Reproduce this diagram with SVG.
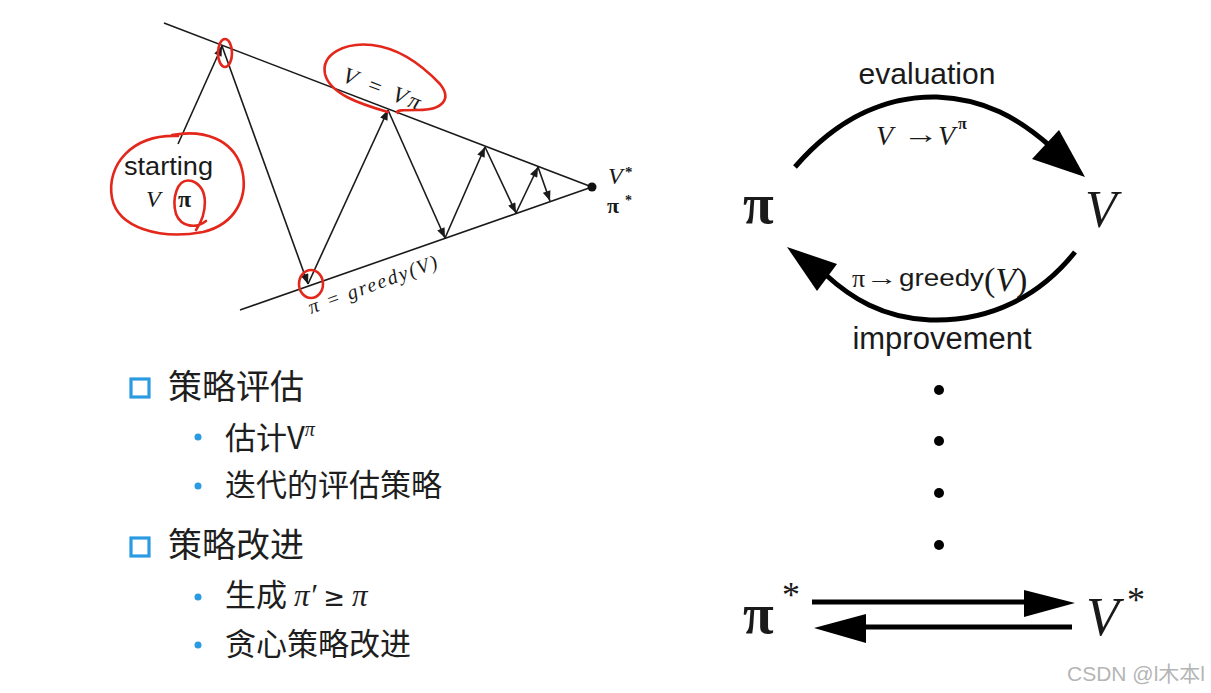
<svg xmlns="http://www.w3.org/2000/svg" width="1211" height="693" viewBox="0 0 1211 693">
<defs>
<style>
.ln{stroke:#1a1a1a;stroke-width:1.6;fill:none}
.ar{stroke:#1a1a1a;stroke-width:1.6;fill:none;marker-end:url(#sm)}
.red{stroke:#e3271b;stroke-width:2.6;fill:none;stroke-linecap:round;stroke-linejoin:round}
.serif{font-family:"Liberation Serif","DejaVu Serif",serif;fill:#1a1a1a}
.it{font-style:italic}
.sans{font-family:"Liberation Sans",Arial,sans-serif;fill:#1a1a1a}
.cjk{font-family:"Noto Sans CJK SC","Noto Sans",sans-serif;fill:#1e1e1e}
.big{stroke:#000;stroke-width:5;fill:none;stroke-linecap:butt}
.sq{fill:none;stroke:#2a9be3;stroke-width:3.2}
.dot{fill:#2a9be3}
</style>
<marker id="sm" viewBox="0 0 10 8" refX="10" refY="4" markerWidth="11" markerHeight="8" markerUnits="userSpaceOnUse" orient="auto">
<path d="M0,0 L10,4 L0,8 Z" fill="#1a1a1a"/>
</marker>
</defs>
<rect width="1211" height="693" fill="#ffffff"/>

<g id="gpi-diagram">
<line class="ln" x1="164" y1="23" x2="592" y2="187"/>
<line class="ln" x1="240" y1="310" x2="592" y2="187"/>
<circle cx="592" cy="187" r="4.5" fill="#111"/>
</g>

<g id="connectors">
<line class="ar" x1="178" y1="144" x2="222" y2="46"/>
<line class="ar" x1="222" y1="46" x2="308" y2="284"/>
<line class="ar" x1="308" y1="284" x2="388" y2="110"/>
<line class="ar" x1="388" y1="110" x2="445" y2="238"/>
<line class="ar" x1="445" y1="238" x2="485" y2="147"/>
<line class="ar" x1="485" y1="147" x2="516" y2="213"/>
<line class="ar" x1="516" y1="213" x2="538" y2="167"/>
<line class="ar" x1="538" y1="167" x2="550" y2="201"/>
</g>

<g id="labels-left">
<text class="sans" x="124" y="175" font-size="26" textLength="89" lengthAdjust="spacingAndGlyphs">starting</text>
<text class="serif it" x="146" y="207" font-size="24">V</text>
<text class="serif" x="178" y="207" font-size="24" font-weight="bold">π</text>
<text class="serif it" x="341" y="81" font-size="23" transform="rotate(21 341 81)" textLength="82" lengthAdjust="spacing">V = Vπ</text>
<text class="serif it" x="311" y="314" font-size="20" transform="rotate(-20 311 314)" textLength="136" lengthAdjust="spacing">π = greedy(V)</text>
<text class="serif it" x="608" y="184" font-size="24">V</text>
<text class="serif" x="625" y="177" font-size="15" font-weight="bold">*</text>
<text class="serif" x="607" y="213" font-size="22" font-weight="bold">π</text>
<text class="serif" x="625" y="205" font-size="14" font-weight="bold">*</text>
</g>

<g id="red-annotations">
<path class="red" d="M178,136 C132,134 106,165 112,198 C118,228 160,240 203,232 C236,224 250,196 241,166 C232,140 205,129 172,135"/>
<path class="red" d="M196,230 C207,214 210,188 192,181 C176,177 172,200 176,214 C181,227 196,229 206,221"/>
<ellipse class="red" cx="225" cy="53" rx="7" ry="14"/>
<ellipse class="red" cx="311" cy="284" rx="12" ry="14"/>
<path class="red" d="M388,112 C360,104 330,94 325,74 C321,54 345,42 372,45 C398,48 422,65 440,84 C452,99 443,110 418,110 C404,110 394,110 398,113"/>
</g>

<g id="bullets">
<rect class="sq" x="131" y="379" width="18" height="18"/>
<text class="cjk" x="168" y="399" font-size="34">策略评估</text>
<circle class="dot" cx="198" cy="437" r="3.5"/>
<text class="cjk" x="225" y="449" font-size="31">估计V<tspan font-family="Liberation Serif,serif" font-style="italic" font-size="20" dy="-13">π</tspan></text>
<circle class="dot" cx="198" cy="486" r="3.5"/>
<text class="cjk" x="225" y="496" font-size="31">迭代的评估策略</text>
<rect class="sq" x="131" y="538" width="18" height="18"/>
<text class="cjk" x="168" y="557" font-size="34">策略改进</text>
<circle class="dot" cx="198" cy="597" r="3.5"/>
<text class="cjk" x="225" y="606" font-size="31">生成 <tspan font-family="Liberation Serif,serif" font-style="italic">π′</tspan> <tspan font-family="DejaVu Sans,sans-serif" font-size="26">≥</tspan> <tspan font-family="Liberation Serif,serif" font-style="italic">π</tspan></text>
<circle class="dot" cx="198" cy="645" r="3.5"/>
<text class="cjk" x="225" y="655" font-size="31">贪心策略改进</text>
</g>

<g id="node-pi">
<text class="serif" x="743" y="223" font-size="56" font-weight="bold">π</text>
</g>
<g id="node-v">
<text class="serif it" x="1085" y="227" font-size="52">V</text>
</g>

<g id="cycle-arrows">
<path class="big" d="M795,167 C840,115 890,96 937,97 C985,99 1018,118 1050,146"/>
<polygon points="1085,177 1032,159 1059,130" fill="#000"/>
<path class="big" d="M1075,252 C1040,296 990,322 930,320 C882,318 850,297 826,275"/>
<polygon points="787,247 837,264 817,291" fill="#000"/>
<text class="sans" x="927" y="84" font-size="30" text-anchor="middle">evaluation</text>
<text class="serif it" x="876" y="145" font-size="28">V</text>
<text class="serif" x="903" y="143" font-size="26" textLength="36" lengthAdjust="spacingAndGlyphs">→</text>
<text class="serif it" x="938" y="145" font-size="28">V</text>
<text class="serif" x="958" y="129" font-size="16" font-weight="bold">π</text>
<text class="sans" x="942" y="349" font-size="31" text-anchor="middle">improvement</text>
<text class="serif" x="852" y="287" font-size="26">π</text>
<text class="serif" x="866" y="285" font-size="22" textLength="32" lengthAdjust="spacingAndGlyphs">→</text>
<text class="sans" x="899" y="286" font-size="24" textLength="85" lengthAdjust="spacingAndGlyphs">greedy</text>
<text class="serif" x="984" y="291" font-size="34">(<tspan font-style="italic">V</tspan>)</text>
</g>

<g id="ellipsis">
<circle cx="939" cy="390" r="5" fill="#000"/>
<circle cx="939" cy="441" r="5" fill="#000"/>
<circle cx="939" cy="493" r="5" fill="#000"/>
<circle cx="939" cy="545" r="5" fill="#000"/>
</g>

<g id="node-pistar">
<text class="serif" x="743" y="633" font-size="56" font-weight="bold">π</text>
<text class="serif" x="782" y="607" font-size="36">*</text>
</g>
<g id="node-vstar">
<text class="serif it" x="1086" y="635" font-size="54">V</text>
<text class="serif" x="1127" y="612" font-size="36">*</text>
</g>
<g id="star-arrows">
<line x1="812" y1="602" x2="1030" y2="602" stroke="#000" stroke-width="5"/>
<polygon points="1075,603 1024,590 1024,617" fill="#000"/>
<line x1="1072" y1="627" x2="860" y2="627" stroke="#000" stroke-width="5"/>
<polygon points="814,628 866,614 866,643" fill="#000"/>
</g>

<text x="1205" y="681" font-family="Liberation Sans,Arial,'Noto Sans CJK SC',sans-serif" font-size="21" fill="#b5b5b5" text-anchor="end">CSDN @l木本l</text>
</svg>
